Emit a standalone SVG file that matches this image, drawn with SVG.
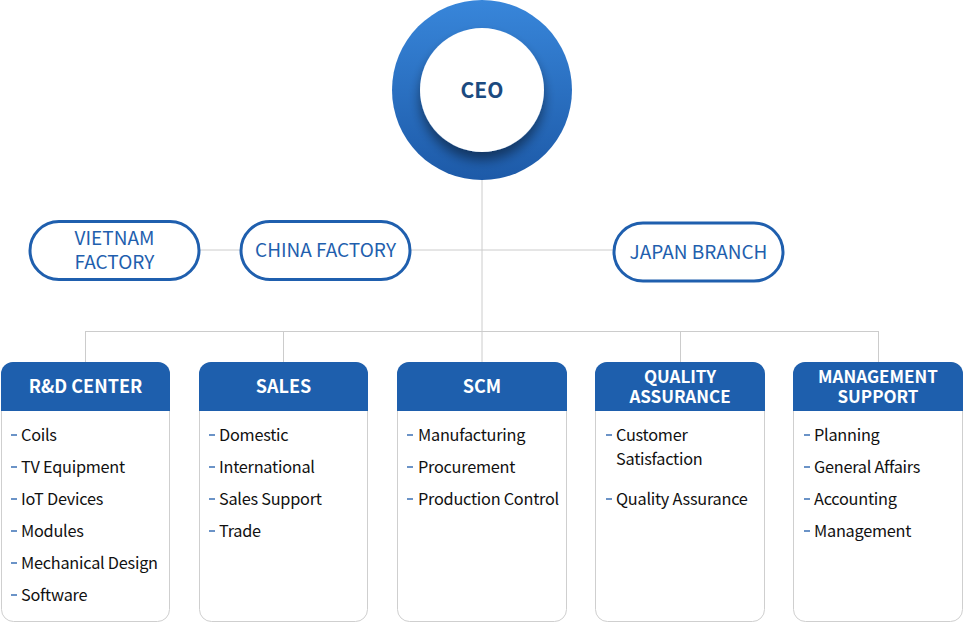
<svg xmlns="http://www.w3.org/2000/svg" width="964" height="623" viewBox="0 0 964 623">
<defs>
<linearGradient id="ring" x1="0" y1="0" x2="0" y2="1">
<stop offset="0" stop-color="#3886da"/>
<stop offset="1" stop-color="#1d5aa8"/>
</linearGradient>
<filter id="sh" x="-30%" y="-30%" width="160%" height="170%">
<feGaussianBlur in="SourceAlpha" stdDeviation="6"/>
<feOffset dy="8"/>
<feComponentTransfer><feFuncA type="linear" slope="0.45"/></feComponentTransfer>
<feMerge><feMergeNode/><feMergeNode in="SourceGraphic"/></feMerge>
</filter>
<style>
.ln{stroke:#cccccc;stroke-width:1;fill:none}
.oval{fill:#fff;stroke:#1f5fae;stroke-width:3}
.ot{font-family:"Noto Sans CJK KR","Noto Sans",sans-serif;font-size:19px;fill:#1f5fae;text-anchor:middle}
.box{fill:#fff;stroke:#cfcfcf;stroke-width:1}
.hd{fill:#1e5fad}
.ht{font-family:"Noto Sans CJK KR","Noto Sans",sans-serif;font-size:18px;font-weight:bold;fill:#fff;text-anchor:middle}
.ht2{font-family:"Noto Sans CJK KR","Noto Sans",sans-serif;font-size:17px;font-weight:bold;fill:#fff;text-anchor:middle}
.it{font-family:"Noto Sans CJK KR","Noto Sans",sans-serif;font-size:16.3px;fill:#111;letter-spacing:-0.25px}
.ds{stroke:#3a6fb5;stroke-width:1.5}
</style>
</defs>
<g id="connectors">
<line class="ln" x1="482" y1="180" x2="482" y2="331"/>
<line class="ln" x1="199" y1="250" x2="241" y2="250"/>
<line class="ln" x1="410" y1="250" x2="614" y2="250"/>
<line class="ln" x1="85.5" y1="331.5" x2="878.5" y2="331.5"/>
<line class="ln" x1="85.5" y1="331" x2="85.5" y2="362"/>
<line class="ln" x1="283.5" y1="331" x2="283.5" y2="362"/>
<line class="ln" x1="482" y1="331" x2="482" y2="362"/>
<line class="ln" x1="680.5" y1="331" x2="680.5" y2="362"/>
<line class="ln" x1="878.5" y1="331" x2="878.5" y2="362"/>
</g>
<g id="ceo">
<circle cx="482" cy="90" r="90" fill="url(#ring)"/>
<circle cx="482" cy="90" r="62" fill="#fff" filter="url(#sh)"/>
<text x="482" y="98" font-family="'Noto Sans CJK KR','Noto Sans',sans-serif" font-size="21" font-weight="bold" fill="#1b4a80" text-anchor="middle">CEO</text>
</g>
<g id="vietnam">
<rect class="oval" x="30" y="221.5" width="169" height="58" rx="29"/>
<text class="ot" x="114.5" y="245"><tspan x="114.5">VIETNAM</tspan><tspan x="114.5" dy="24">FACTORY</tspan></text>
</g>
<g id="china">
<rect class="oval" x="241" y="221.5" width="169" height="58" rx="29"/>
<text class="ot" x="325.5" y="257">CHINA FACTORY</text>
</g>
<g id="japan">
<rect class="oval" x="614" y="223" width="169" height="58" rx="29"/>
<text class="ot" x="698.5" y="259">JAPAN BRANCH</text>
</g>
<g id="rnd">
<rect class="box" x="1.5" y="362.5" width="168" height="259" rx="12"/>
<path class="hd" d="M1,411 V374 a12,12 0 0 1 12,-12 H158 a12,12 0 0 1 12,12 V411 Z"/>
<text class="ht" x="85.5" y="393">R&amp;D CENTER</text>
<line class="ds" x1="11" y1="435" x2="17" y2="435"/><text class="it" x="21" y="441">Coils</text>
<line class="ds" x1="11" y1="467" x2="17" y2="467"/><text class="it" x="21" y="473">TV Equipment</text>
<line class="ds" x1="11" y1="499" x2="17" y2="499"/><text class="it" x="21" y="505">IoT Devices</text>
<line class="ds" x1="11" y1="531" x2="17" y2="531"/><text class="it" x="21" y="537">Modules</text>
<line class="ds" x1="11" y1="563" x2="17" y2="563"/><text class="it" x="21" y="569">Mechanical Design</text>
<line class="ds" x1="11" y1="595" x2="17" y2="595"/><text class="it" x="21" y="601">Software</text>
</g>
<g id="sales">
<rect class="box" x="199.5" y="362.5" width="168" height="259" rx="12"/>
<path class="hd" d="M199,411 V374 a12,12 0 0 1 12,-12 H356 a12,12 0 0 1 12,12 V411 Z"/>
<text class="ht" x="283.5" y="393">SALES</text>
<line class="ds" x1="209" y1="435" x2="215" y2="435"/><text class="it" x="219" y="441">Domestic</text>
<line class="ds" x1="209" y1="467" x2="215" y2="467"/><text class="it" x="219" y="473">International</text>
<line class="ds" x1="209" y1="499" x2="215" y2="499"/><text class="it" x="219" y="505">Sales Support</text>
<line class="ds" x1="209" y1="531" x2="215" y2="531"/><text class="it" x="219" y="537">Trade</text>
</g>
<g id="scm">
<rect class="box" x="397.5" y="362.5" width="169" height="259" rx="12"/>
<path class="hd" d="M397,411 V374 a12,12 0 0 1 12,-12 H555 a12,12 0 0 1 12,12 V411 Z"/>
<text class="ht" x="482" y="393">SCM</text>
<line class="ds" x1="407" y1="435" x2="413" y2="435"/><text class="it" x="418" y="441">Manufacturing</text>
<line class="ds" x1="407" y1="467" x2="413" y2="467"/><text class="it" x="418" y="473">Procurement</text>
<line class="ds" x1="407" y1="499" x2="413" y2="499"/><text class="it" x="418" y="505">Production Control</text>
</g>
<g id="qa">
<rect class="box" x="595.5" y="362.5" width="169" height="259" rx="12"/>
<path class="hd" d="M595,411 V374 a12,12 0 0 1 12,-12 H753 a12,12 0 0 1 12,12 V411 Z"/>
<text class="ht2" x="680" y="383"><tspan x="680">QUALITY</tspan><tspan x="680" dy="20">ASSURANCE</tspan></text>
<line class="ds" x1="606" y1="435" x2="612" y2="435"/><text class="it" x="616" y="441"><tspan x="616">Customer</tspan><tspan x="616" dy="24">Satisfaction</tspan></text>
<line class="ds" x1="606" y1="499" x2="612" y2="499"/><text class="it" x="616" y="505">Quality Assurance</text>
</g>
<g id="mgmt">
<rect class="box" x="793.5" y="362.5" width="169" height="259" rx="12"/>
<path class="hd" d="M793,411 V374 a12,12 0 0 1 12,-12 H951 a12,12 0 0 1 12,12 V411 Z"/>
<text class="ht2" x="878" y="383"><tspan x="878">MANAGEMENT</tspan><tspan x="878" dy="20">SUPPORT</tspan></text>
<line class="ds" x1="804" y1="435" x2="810" y2="435"/><text class="it" x="814" y="441">Planning</text>
<line class="ds" x1="804" y1="467" x2="810" y2="467"/><text class="it" x="814" y="473">General Affairs</text>
<line class="ds" x1="804" y1="499" x2="810" y2="499"/><text class="it" x="814" y="505">Accounting</text>
<line class="ds" x1="804" y1="531" x2="810" y2="531"/><text class="it" x="814" y="537">Management</text>
</g>
</svg>
